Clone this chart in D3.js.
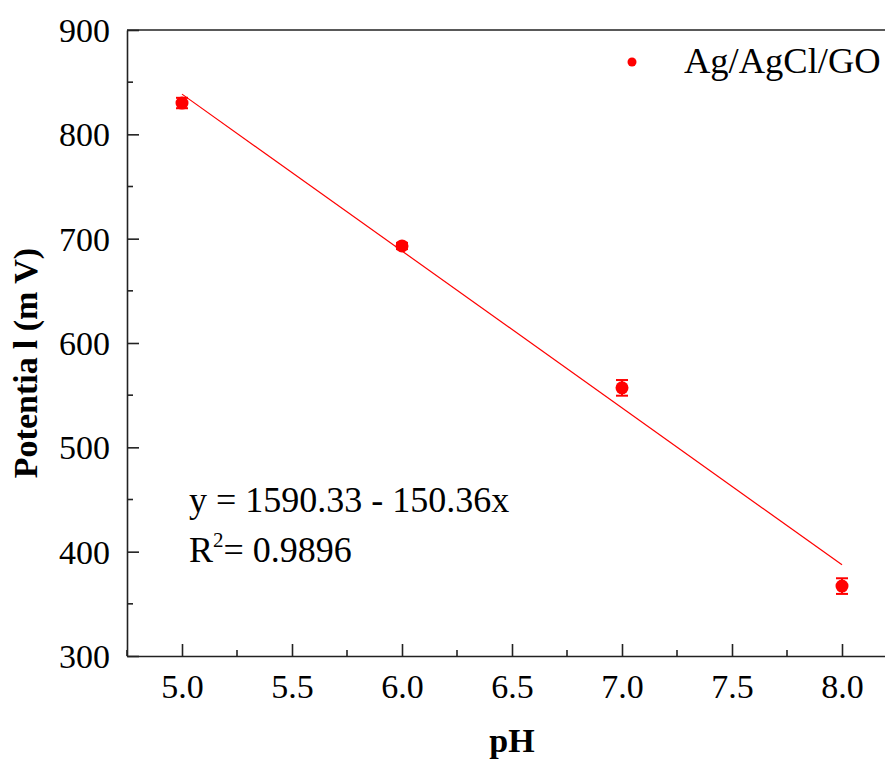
<!DOCTYPE html>
<html>
<head>
<meta charset="utf-8">
<script src="https://cdn.jsdelivr.net/npm/d3@7"></script>
<style>
  html, body { margin: 0; padding: 0; background: #fff; }
  svg { display: block; }
  text { font-family: "Liberation Serif", "Times New Roman", serif; fill: #000; }
</style>
</head>
<body>
<svg id="chart" width="885" height="760"></svg>
<script>
// Measured electrode potential vs. pH
const phValues = [5.0, 6.0, 7.0, 8.0];
const potentials = [830, 693, 557, 367];
const errors = [5, 3, 7.5, 7.5];
const fitIntercept = 1590.33;
const fitSlope = -150.36;
const fitR2 = 0.9896;
const xTicks = [5.0, 5.5, 6.0, 6.5, 7.0, 7.5, 8.0];
const yTicks = [300, 400, 500, 600, 700, 800, 900];
const seriesName = "Ag/AgCl/GO";

(function () {
const svg = d3.select("#chart");
const plotLeft = 127, plotRight = 897, plotTop = 30, plotBottom = 656;

const x = d3.scaleLinear().domain([4.75, 8.25]).range([plotLeft, plotRight]);
const y = d3.scaleLinear().domain([300, 900]).range([plotBottom, plotTop]);
const red = "#ff0000";
const axisColor = "#222";

// frame top edge
svg.append("line").attr("x1", plotLeft).attr("x2", plotRight).attr("y1", plotTop).attr("y2", plotTop)
  .attr("stroke", axisColor).attr("stroke-width", 1.6);

// x axis with ticks pointing inward
const xMinor = d3.range(4.75, 8.26, 0.25).filter(v => !xTicks.some(t => Math.abs(t - v) < 1e-6));
const gx = svg.append("g").attr("transform", `translate(0,${plotBottom})`);
gx.call(d3.axisBottom(x).tickValues(xTicks).tickFormat(d3.format(".1f")).tickSize(-12).tickPadding(0).tickSizeOuter(0));
gx.select(".domain").attr("stroke", axisColor).attr("stroke-width", 1.6);
gx.selectAll(".tick line").attr("stroke", axisColor).attr("stroke-width", 1.6);
gx.selectAll(".tick text").attr("font-size", 34).attr("dy", 0).attr("y", 42);
gx.selectAll(".minor").data(xMinor).enter().append("line")
  .attr("x1", d => x(d)).attr("x2", d => x(d)).attr("y1", 0).attr("y2", -6)
  .attr("stroke", axisColor).attr("stroke-width", 1.6);

// y axis with ticks pointing inward
const yMinor = d3.range(350, 900, 100);
const gy = svg.append("g").attr("transform", `translate(${plotLeft},0)`);
gy.call(d3.axisLeft(y).tickValues(yTicks).tickFormat(d3.format("d")).tickSize(-12).tickPadding(0).tickSizeOuter(0));
gy.select(".domain").attr("stroke", axisColor).attr("stroke-width", 1.6);
gy.selectAll(".tick line").attr("stroke", axisColor).attr("stroke-width", 1.6);
gy.selectAll(".tick text").attr("font-size", 34).attr("x", -17).attr("dy", "0.34em");
gy.selectAll(".minor").data(yMinor).enter().append("line")
  .attr("x1", 0).attr("x2", 6).attr("y1", d => y(d)).attr("y2", d => y(d))
  .attr("stroke", axisColor).attr("stroke-width", 1.6);

// axis titles
svg.append("text").attr("x", x(6.5)).attr("y", 752).attr("text-anchor", "middle")
  .attr("font-size", 34).attr("font-weight", "bold").text("pH");
const yTitle = svg.append("text").attr("transform", `translate(37,${y(600) + 20}) rotate(-90)`)
  .attr("text-anchor", "middle").attr("font-size", 34).attr("font-weight", "bold");
yTitle.append("tspan").text("Potentia");
yTitle.append("tspan").attr("dx", 8).text("l (m");
yTitle.append("tspan").attr("dx", 8).text("V)");

// linear fit line
const fitLine = d3.line().x(d => x(d)).y(d => y(fitIntercept + fitSlope * d));
svg.append("path").datum([phValues[0], phValues[phValues.length - 1]])
  .attr("d", fitLine).attr("fill", "none").attr("stroke", red).attr("stroke-width", 1.2);

// error bars
const pts = phValues.map((p, i) => ({ p, v: potentials[i], e: errors[i] }));
const eb = svg.append("g").attr("stroke", red).attr("stroke-width", 2);
eb.selectAll(".v").data(pts).enter().append("line")
  .attr("x1", d => x(d.p)).attr("x2", d => x(d.p))
  .attr("y1", d => y(d.v - d.e)).attr("y2", d => y(d.v + d.e));
eb.selectAll(".cl").data(pts.flatMap(d => [d.v - d.e, d.v + d.e].map(v => ({ p: d.p, v }))))
  .enter().append("line")
  .attr("x1", d => x(d.p) - 6).attr("x2", d => x(d.p) + 6)
  .attr("y1", d => y(d.v)).attr("y2", d => y(d.v));

// data points
svg.append("g").selectAll("circle").data(pts).enter().append("circle")
  .attr("cx", d => x(d.p)).attr("cy", d => y(d.v)).attr("r", 6.5).attr("fill", red);

// legend
svg.append("circle").attr("cx", 632).attr("cy", 62).attr("r", 4.5).attr("fill", red);
svg.append("text").attr("x", 684).attr("y", 73).attr("font-size", 36.5).text(seriesName);

// regression annotation
svg.append("text").attr("x", 189).attr("y", 512).attr("font-size", 36)
  .text(`y = ${fitIntercept} - ${Math.abs(fitSlope)}x`);
const r2 = svg.append("text").attr("x", 189).attr("y", 562).attr("font-size", 36);
r2.append("tspan").text("R");
r2.append("tspan").attr("font-size", 21).attr("dy", -15).text("2");
r2.append("tspan").attr("dy", 15).text(`= ${fitR2}`);
})();
</script>
</body>
</html>
